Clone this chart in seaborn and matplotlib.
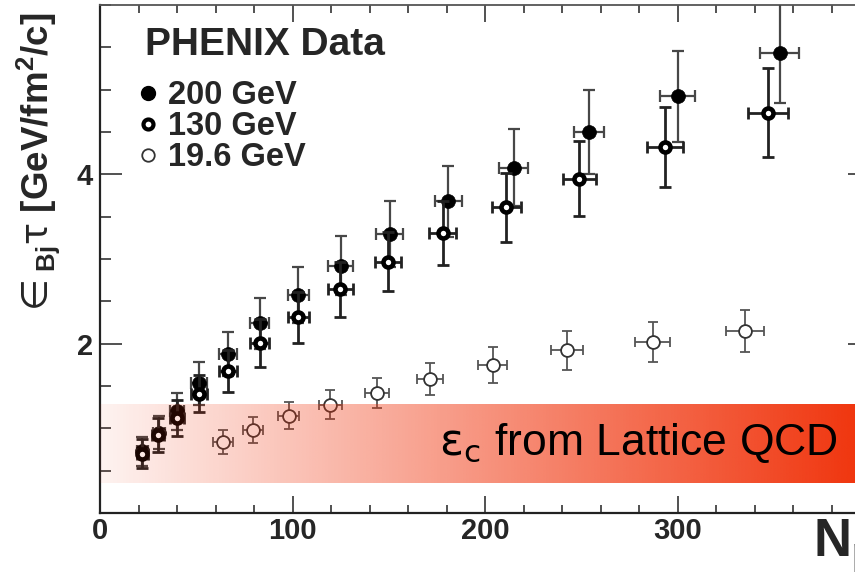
import numpy as np
import matplotlib
matplotlib.use("Agg")
import matplotlib.pyplot as plt
from matplotlib.lines import Line2D
from matplotlib.ticker import MultipleLocator
import seaborn as sns

sns.set_theme(style="ticks")
plt.rcParams["font.family"] = ["Liberation Sans", "DejaVu Sans"]
plt.rcParams["mathtext.fontset"] = "custom"
plt.rcParams["mathtext.rm"] = "DejaVu Sans"
plt.rcParams["mathtext.it"] = "DejaVu Sans:italic"
plt.rcParams["mathtext.bf"] = "Liberation Sans:bold"

# 200 GeV (filled)
npart_200 = [353, 300, 254, 215, 181, 150.6, 125, 103, 83, 66.5, 51.4, 40, 30.6, 22]
eps_200 = [5.43, 4.92, 4.50, 4.08, 3.68, 3.30, 2.92, 2.57, 2.24, 1.88, 1.53, 1.20, 0.95, 0.73]
yerr_200 = [0.59, 0.54, 0.50, 0.45, 0.42, 0.39, 0.35, 0.33, 0.30, 0.26, 0.25, 0.22, 0.20, 0.17]
xerr_200 = [10, 9, 8, 7.5, 7, 7, 6.5, 5.5, 5, 4.5, 4, 3.5, 3, 3]

# 130 GeV (thick open)
npart_130 = [347, 293.5, 249, 211, 178, 149.6, 124.7, 103, 83, 66.4, 51.4, 40, 30, 22]
eps_130 = [4.73, 4.32, 3.95, 3.61, 3.31, 2.97, 2.64, 2.31, 2.01, 1.68, 1.41, 1.12, 0.92, 0.70]
yerr_130 = [0.52, 0.47, 0.44, 0.41, 0.38, 0.35, 0.33, 0.30, 0.28, 0.25, 0.22, 0.21, 0.20, 0.17]
xerr_130 = [10.4, 9.2, 8.4, 7.5, 7, 7, 6.5, 5.5, 5, 4.5, 4, 3.5, 3, 3]

# 19.6 GeV (thin open)
npart_19 = [335, 287, 242.6, 204, 171.4, 144, 119.5, 98, 79.6, 63.8]
eps_19 = [2.15, 2.02, 1.92, 1.75, 1.58, 1.42, 1.28, 1.15, 0.98, 0.84]
yerr_19 = [0.25, 0.24, 0.23, 0.21, 0.19, 0.18, 0.17, 0.16, 0.15, 0.14]
xerr_19 = [10, 9.3, 8.2, 7.4, 6.8, 6.3, 6, 5.6, 5.2, 5.2]

# lattice QCD band
band_low, band_high = 0.35, 1.28
band_label = r"$\mathrm{\varepsilon_c}$ from Lattice QCD"

fig = plt.figure(figsize=(8.55, 5.79), dpi=100)
ax = fig.add_axes([0.117, 0.114, 0.9006, 0.8774])

# 19.6 GeV
ax.errorbar(npart_19, eps_19, xerr=xerr_19, yerr=yerr_19, fmt="none",
            ecolor="#555555", elinewidth=1.3, capsize=3.5, capthick=1.3, zorder=2)
sns.scatterplot(x=npart_19, y=eps_19, s=85, color="white", edgecolor="#333333",
                linewidth=1.3, ax=ax, zorder=3)

# 200 GeV
ax.errorbar(npart_200, eps_200, xerr=xerr_200, yerr=yerr_200, fmt="none",
            ecolor="#474747", elinewidth=1.6, capsize=4, capthick=1.6, zorder=4)
sns.scatterplot(x=npart_200, y=eps_200, s=100, color="black", edgecolor="black",
                linewidth=0.5, ax=ax, zorder=5)

# 130 GeV
ax.errorbar(npart_130, eps_130, xerr=xerr_130, yerr=yerr_130, fmt="none",
            ecolor="#222222", elinewidth=2.0, capsize=4, capthick=2.0, zorder=6)
sns.scatterplot(x=npart_130, y=eps_130, s=52, color="white", edgecolor="black",
                linewidth=3.3, ax=ax, zorder=7)

# gradient band drawn on top, semi-transparent
grad = np.zeros((1, 256, 4))
grad[..., 0] = 240 / 255
grad[..., 1] = 50 / 255
grad[..., 2] = 10 / 255
grad[..., 3] = np.linspace(0.06, 1.0, 256)
ax.imshow(grad, extent=[0, 400, band_low, band_high], aspect="auto",
          interpolation="bilinear", zorder=8)
ax.text(383.4, 0.686, band_label, ha="right", va="baseline", fontsize=32,
        color="black", zorder=9)

ax.set_xlim(0, 400)
ax.set_ylim(0, 6)
ax.set_xticks([0, 100, 200, 300])
ax.set_yticks([2, 4])
ax.xaxis.set_minor_locator(MultipleLocator(20))
ax.yaxis.set_minor_locator(MultipleLocator(0.5))
ax.tick_params(which="both", direction="in", top=True, right=True,
               color="#333333", width=1.2)
ax.tick_params(axis="x", which="major", length=12, pad=3)
ax.tick_params(axis="x", which="minor", length=6)
ax.tick_params(axis="y", which="major", length=16, pad=5)
ax.tick_params(axis="y", which="minor", length=8)
for lab in ax.get_xticklabels() + ax.get_yticklabels():
    lab.set_fontsize(21)
    lab.set_fontweight("bold")
for side in ["left", "bottom"]:
    ax.spines[side].set_linewidth(1.6)
    ax.spines[side].set_color("#222222")
ax.spines["top"].set_linewidth(1.3)
ax.spines["top"].set_color("#555555")

ax.set_xlabel("")
ax.set_ylabel(r"$\in_{\mathbf{Bj}}\mathrm{\tau}$ [GeV/fm$^{\mathbf{2}}$/c]",
              fontsize=26.5, fontweight="bold")
ax.yaxis.set_label_coords(-0.05, 0.685)

fig.text(813 / 855, 22 / 579, r"N$_{\mathbf{part}}$", ha="left", va="baseline",
         fontsize=38, fontweight="bold")

ax.text(0.058, 0.9016, "PHENIX Data", transform=ax.transAxes, ha="left",
        va="baseline", fontsize=28, fontweight="bold", zorder=10)

handles = [
    Line2D([], [], ls="none", marker="o", ms=10, mfc="black", mec="black"),
    Line2D([], [], ls="none", marker="o", ms=7.2, mfc="white", mec="black", mew=3.0),
    Line2D([], [], ls="none", marker="o", ms=9, mfc="white", mec="#333333", mew=1.3),
]
ax.legend(handles, ["200 GeV", "130 GeV", "19.6 GeV"], loc="upper left",
          bbox_to_anchor=(0.0455, 0.852), frameon=False, handlelength=0.8,
          handletextpad=0.2, labelspacing=0.0, borderpad=0, borderaxespad=0,
          prop={"size": 23.5, "weight": "bold"})

fig.savefig("out.png", dpi=100)
